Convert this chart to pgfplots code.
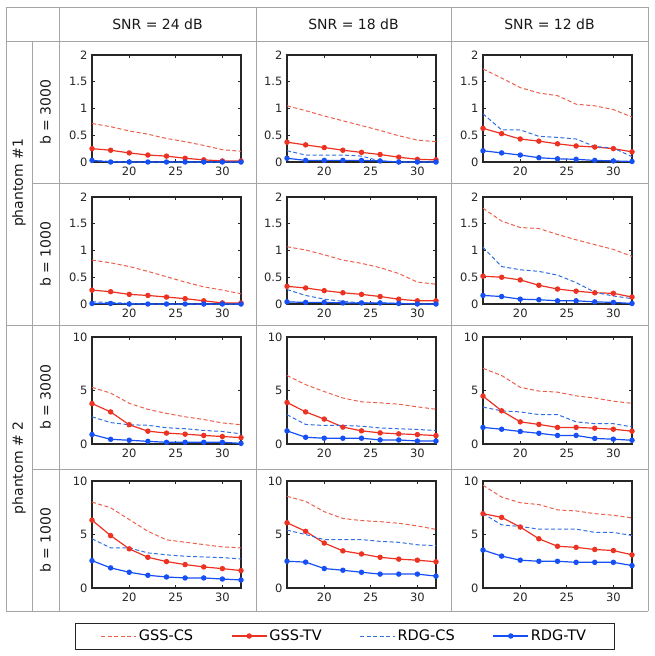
\documentclass[border=0pt]{standalone}
\usepackage{fontspec}
\setmainfont{DejaVu Sans}
\usepackage{pgfplots}
\pgfplotsset{compat=1.18}
\usepackage{pgfplotstable}

\definecolor{rd}{RGB}{236,50,34}
\definecolor{rdl}{RGB}{238,95,75}
\definecolor{bl}{RGB}{22,80,245}
\definecolor{bll}{RGB}{50,110,225}
\definecolor{gridc}{RGB}{165,165,165}

\pgfplotstableread{
x gcs gtv rcs rtv
16 0.72 0.25 0.03 0.03
18 0.66 0.22 0.01 0.00
20 0.58 0.17 0.00 0.00
22 0.52 0.13 0.00 0.00
24 0.44 0.11 0.00 0.00
26 0.38 0.07 0.00 0.00
28 0.31 0.04 0.00 0.00
30 0.23 0.02 0.00 0.00
32 0.20 0.02 0.00 0.00
}\tA
\pgfplotstableread{
x gcs gtv rcs rtv
16 1.05 0.37 0.21 0.07
18 0.96 0.32 0.13 0.03
20 0.86 0.27 0.13 0.03
22 0.77 0.22 0.13 0.03
24 0.68 0.18 0.11 0.03
26 0.59 0.14 0.02 0.02
28 0.49 0.09 0.00 0.00
30 0.41 0.05 0.00 0.00
32 0.38 0.04 0.00 0.00
}\tB
\pgfplotstableread{
x gcs gtv rcs rtv
16 1.74 0.63 0.90 0.21
18 1.57 0.53 0.60 0.17
20 1.39 0.43 0.60 0.13
22 1.29 0.39 0.48 0.08
24 1.24 0.34 0.46 0.06
26 1.08 0.30 0.43 0.05
28 1.05 0.28 0.29 0.03
30 0.98 0.25 0.26 0.02
32 0.84 0.19 0.10 0.01
}\tC
\pgfplotstableread{
x gcs gtv rcs rtv
16 0.82 0.26 0.04 0.01
18 0.77 0.23 0.03 0.01
20 0.70 0.18 0.01 0.00
22 0.61 0.16 0.00 0.00
24 0.51 0.13 0.00 0.00
26 0.41 0.10 0.00 0.00
28 0.32 0.06 0.00 0.00
30 0.26 0.02 0.00 0.00
32 0.19 0.02 0.00 0.00
}\tD
\pgfplotstableread{
x gcs gtv rcs rtv
16 1.07 0.33 0.27 0.04
18 1.01 0.30 0.16 0.03
20 0.92 0.25 0.09 0.03
22 0.82 0.21 0.05 0.02
24 0.76 0.18 0.02 0.02
26 0.68 0.14 0.02 0.02
28 0.57 0.09 0.01 0.01
30 0.41 0.06 0.00 0.00
32 0.37 0.06 0.00 0.00
}\tE
\pgfplotstableread{
x gcs gtv rcs rtv
16 1.79 0.52 1.06 0.16
18 1.55 0.50 0.70 0.14
20 1.43 0.45 0.64 0.09
22 1.41 0.35 0.61 0.08
24 1.30 0.28 0.54 0.06
26 1.20 0.24 0.40 0.06
28 1.11 0.21 0.22 0.04
30 1.02 0.20 0.15 0.03
32 0.89 0.13 0.10 0.01
}\tF
\pgfplotstableread{
x gcs gtv rcs rtv
16 5.30 3.78 2.54 0.89
18 4.76 3.00 2.00 0.44
20 3.80 1.80 1.80 0.35
22 3.24 1.20 1.75 0.25
24 2.86 1.02 1.52 0.16
26 2.54 0.92 1.43 0.16
28 2.29 0.80 1.27 0.16
30 1.97 0.70 1.17 0.16
32 1.80 0.60 0.95 0.06
}\tG
\pgfplotstableread{
x gcs gtv rcs rtv
16 6.40 3.88 2.74 1.23
18 5.55 3.00 1.83 0.63
20 4.90 2.33 1.73 0.54
22 4.30 1.58 1.73 0.54
24 3.94 1.23 1.67 0.54
26 3.85 1.04 1.50 0.38
28 3.72 0.95 1.42 0.38
30 3.47 0.88 1.36 0.28
32 3.25 0.79 1.26 0.28
}\tH
\pgfplotstableread{
x gcs gtv rcs rtv
16 7.07 4.48 3.45 1.55
18 6.40 3.10 3.10 1.38
20 5.30 2.07 3.00 1.17
22 4.95 1.83 2.75 1.00
24 4.85 1.55 2.75 0.80
26 4.50 1.55 2.07 0.80
28 4.30 1.48 1.90 0.52
30 4.00 1.38 1.90 0.45
32 3.80 1.20 1.60 0.35
}\tI
\pgfplotstableread{
x gcs gtv rcs rtv
16 8.03 6.34 4.60 2.56
18 7.50 4.90 3.75 1.88
20 6.40 3.66 3.75 1.47
22 5.30 2.87 3.28 1.19
24 4.50 2.47 3.10 1.03
26 4.28 2.19 2.97 0.94
28 4.06 1.97 2.90 0.94
30 3.84 1.81 2.84 0.84
32 3.75 1.63 2.72 0.75
}\tJ
\pgfplotstableread{
x gcs gtv rcs rtv
16 8.57 6.10 5.41 2.50
18 8.10 5.30 5.00 2.42
20 7.13 4.20 4.52 1.82
22 6.50 3.47 4.52 1.66
24 6.30 3.18 4.52 1.47
26 6.20 2.87 4.36 1.30
28 6.05 2.70 4.27 1.30
30 5.80 2.60 4.04 1.30
32 5.48 2.45 3.95 1.11
}\tK
\pgfplotstableread{
x gcs gtv rcs rtv
16 9.60 6.95 6.95 3.55
18 8.50 6.60 5.90 2.98
20 7.97 5.70 5.75 2.60
22 7.80 4.60 5.50 2.50
24 7.30 3.90 5.50 2.50
26 7.20 3.80 5.50 2.40
28 6.95 3.60 5.20 2.40
30 6.80 3.50 5.20 2.40
32 6.55 3.10 4.90 2.10
}\tL

\pgfplotsset{
  gcs/.style={rdl, line width=1pt, dash pattern=on 4pt off 2.5pt, mark=none},
  gtv/.style={rd, line width=1.2pt, mark=*, mark size=2.1pt, mark options={solid, fill=rd, draw=rd}},
  rcs/.style={bll, line width=1pt, dash pattern=on 4pt off 2.5pt, mark=none},
  rtv/.style={bl, line width=1.2pt, mark=*, mark size=2.1pt, mark options={solid, fill=bl, draw=bl}},
  panel/.style={
    scale only axis, width=149pt, height=107pt, anchor=south west,
    xmin=16, xmax=32, ymin=0, xtick={20,25,30},
    tick align=inside, major tick length=3pt,
    axis line style={line width=1.2pt, black!85},
    every tick/.style={black!85, line width=0.7pt},
    tick label style={font=\fontsize{11.5}{12}\selectfont, text=black!85},
    /pgf/number format/assume math mode=true,
    xticklabel style={yshift=-1pt},
    yticklabel style={xshift=-1pt},
    clip=false,
  },
}

\newcommand{\panel}[5]{%
\begin{axis}[panel, at={(#1pt,-#2pt)}, ymax=#3, ytick={#4}]
\addplot[gcs] table[x=x,y=gcs]{#5};
\addplot[gtv] table[x=x,y=gtv]{#5};
\addplot[rcs] table[x=x,y=rcs]{#5};
\addplot[rtv] table[x=x,y=rtv]{#5};
\end{axis}}

\begin{document}
\begin{tikzpicture}
\useasboundingbox (0pt,0pt) rectangle (654pt,-656pt);
% table grid
\begin{scope}[gridc, line width=0.8pt]
\draw (6pt,-7pt) -- (648pt,-7pt);
\draw (6pt,-41pt) -- (648pt,-41pt);
\draw (32pt,-183pt) -- (648pt,-183pt);
\draw (6pt,-325pt) -- (648pt,-325pt);
\draw (32pt,-469pt) -- (648pt,-469pt);
\draw (6pt,-611pt) -- (648pt,-611pt);
\draw (6pt,-7pt) -- (6pt,-611pt);
\draw (32pt,-41pt) -- (32pt,-611pt);
\draw (59pt,-7pt) -- (59pt,-611pt);
\draw (256pt,-7pt) -- (256pt,-611pt);
\draw (451pt,-7pt) -- (451pt,-611pt);
\draw (648pt,-7pt) -- (648pt,-611pt);
\end{scope}
% headers
\begin{scope}[font=\fontsize{14}{16}\selectfont, text=black!90]
\node at (157.5pt,-24pt) {SNR = 24 dB};
\node at (353.5pt,-24pt) {SNR = 18 dB};
\node at (549.5pt,-24pt) {SNR = 12 dB};
\node[rotate=90] at (19pt,-183pt) {phantom \#1};
\node[rotate=90] at (19pt,-468pt) {phantom \# 2};
\node[rotate=90] at (45.5pt,-112pt) {b = 3000};
\node[rotate=90] at (45.5pt,-254pt) {b = 1000};
\node[rotate=90] at (45.5pt,-397pt) {b = 3000};
\node[rotate=90] at (45.5pt,-540pt) {b = 1000};
\end{scope}
% panels
\panel{92}{162}{2}{0,0.5,1,1.5,2}{\tA}
\panel{287}{162}{2}{0,0.5,1,1.5,2}{\tB}
\panel{483}{162}{2}{0,0.5,1,1.5,2}{\tC}
\panel{92}{304}{2}{0,0.5,1,1.5,2}{\tD}
\panel{287}{304}{2}{0,0.5,1,1.5,2}{\tE}
\panel{483}{304}{2}{0,0.5,1,1.5,2}{\tF}
\panel{92}{444}{10}{0,5,10}{\tG}
\panel{287}{444}{10}{0,5,10}{\tH}
\panel{483}{444}{10}{0,5,10}{\tI}
\panel{92}{588}{10}{0,5,10}{\tJ}
\panel{287}{588}{10}{0,5,10}{\tK}
\panel{483}{588}{10}{0,5,10}{\tL}
% legend
\draw[black!85, line width=1pt] (75pt,-623pt) rectangle (614pt,-649pt);
\begin{axis}[at={(75pt,-649pt)}, anchor=south west, scale only axis,
  width=539pt, height=26pt, hide axis, xmin=0, xmax=1, ymin=0, ymax=1,
  legend columns=4,
  legend style={at={(0.5,0.5)}, anchor=center, draw=none, fill=none,
    font=\fontsize{14.5}{15}\selectfont,
    /tikz/every even column/.append style={column sep=36pt}},
  legend image code/.code={\draw[mark repeat=2,mark phase=2,#1] plot coordinates {(0pt,0pt) (17.5pt,0pt) (35pt,0pt)};}]
\addlegendimage{gcs}\addlegendentry{GSS-CS}
\addlegendimage{gtv}\addlegendentry{GSS-TV}
\addlegendimage{rcs}\addlegendentry{RDG-CS}
\addlegendimage{rtv}\addlegendentry{RDG-TV}
\end{axis}
\end{tikzpicture}
\end{document}
